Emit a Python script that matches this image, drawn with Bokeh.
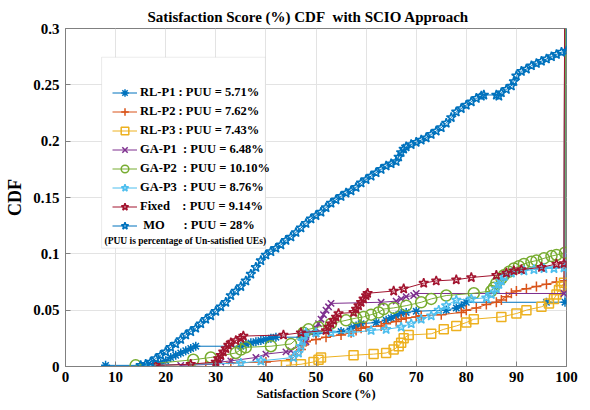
from bokeh.plotting import figure
from bokeh.models import Legend, LegendItem, Label, BoxAnnotation, Range1d, FixedTicker
from bokeh.embed import file_html
from bokeh.resources import INLINE

FONT = "Liberation Serif"

x_ticks = [0, 10, 20, 30, 40, 50, 60, 70, 80, 90, 100]
x_tick_labels = ["0", "10", "20", "30", "40", "50", "60", "70", "80", "90", "100"]
y_ticks = [0, 0.05, 0.1, 0.15, 0.2, 0.25, 0.3]
y_tick_labels = ["0", "0.05", "0.1", "0.15", "0.2", "0.25", "0.3"]

names = ["RL-P1", "RL-P2", "RL-P3", "GA-P1", "GA-P2", "GA-P3", "Fixed", "MO"]
legend_labels = [
    "RL-P1 : PUU = 5.71%",
    "RL-P2 : PUU = 7.62%",
    "RL-P3 : PUU = 7.43%",
    "GA-P1\u00a0 : PUU = 6.48%",
    "GA-P2\u00a0 : PUU = 10.10%",
    "GA-P3\u00a0 : PUU = 8.76%",
    "Fixed\u00a0\u00a0\u00a0 : PUU = 9.14%",
    "\u00a0MO\u00a0\u00a0\u00a0\u00a0\u00a0 : PUU = 28%",
]
note_text = "(PUU is percentage of Un-satisfied UEs)"
title_text = "Satisfaction Score (%) CDF\u00a0 with SCIO Approach"

rl_p1_x = [8, 17, 19, 20, 21, 22, 23, 24, 25, 26, 35, 36, 37, 38, 39, 40, 41, 42, 47, 48, 50, 55,
           57, 58, 59, 62, 64, 65, 66, 67, 68, 70, 76, 78, 79, 80, 96, 99.7, 100]
rl_p1_y = [0.001, 0.001, 0.003, 0.005, 0.008, 0.010, 0.012, 0.014, 0.016, 0.018, 0.018, 0.020,
           0.021, 0.022, 0.023, 0.024, 0.025, 0.026, 0.026, 0.028, 0.029, 0.031, 0.034, 0.036,
           0.038, 0.039, 0.041, 0.043, 0.045, 0.047, 0.048, 0.049, 0.050, 0.052, 0.054, 0.057,
           0.057, 0.0571, 1.0]

rl_p2_x = [18, 28, 33, 40, 45, 46, 47, 47.5, 48, 50, 52, 55, 57, 58, 59, 60, 63, 64, 66, 67, 68,
           70, 71, 75, 79, 80, 82, 84, 86, 87, 88, 89, 90, 92, 94, 96, 98, 99.5, 100]
rl_p2_y = [0.001, 0.002, 0.003, 0.004, 0.006, 0.010, 0.015, 0.019, 0.022, 0.024, 0.026, 0.028,
           0.030, 0.032, 0.034, 0.035, 0.036, 0.038, 0.040, 0.042, 0.043, 0.044, 0.045, 0.046,
           0.048, 0.050, 0.052, 0.055, 0.057, 0.059, 0.062, 0.065, 0.067, 0.069, 0.071, 0.073,
           0.075, 0.0762, 1.0]

rl_p3_x = [44, 47, 49.5, 50.5, 51, 57.5, 61.5, 64, 65.5, 66.5, 67, 67.5, 68.5, 73, 75.5, 78, 80,
           81.5, 87, 90, 92, 95, 96.5, 97.5, 98, 98.5, 99, 99.5, 100]
rl_p3_y = [0.001, 0.002, 0.004, 0.006, 0.008, 0.010, 0.011, 0.012, 0.015, 0.018, 0.021, 0.025,
           0.028, 0.029, 0.033, 0.036, 0.039, 0.042, 0.044, 0.047, 0.050, 0.053, 0.056, 0.060,
           0.064, 0.068, 0.071, 0.0743, 1.0]

ga_p1_x = [23, 30, 31, 33, 38, 40, 44, 45, 48, 49, 50, 50.5, 51, 51.5, 52, 52.5, 53, 63, 66, 67,
           68, 69.5, 70, 99.5, 100]
ga_p1_y = [0.001, 0.002, 0.004, 0.005, 0.008, 0.011, 0.013, 0.014, 0.022, 0.030, 0.034, 0.038,
           0.042, 0.046, 0.050, 0.053, 0.056, 0.057, 0.058, 0.060, 0.062, 0.063, 0.0648, 0.0648, 1.0]

ga_p2_x = [14, 25.5, 29, 34, 35, 36, 41, 45, 47.5, 48.5, 50.5, 53, 56, 58, 59.5, 61, 62.5, 63.5,
           65.5, 68, 71, 73, 76, 81.5, 85, 85.5, 86, 87, 87.5, 88.5, 89.5, 90.5, 91.5, 93, 94,
           95.5, 97, 98, 99.7, 100]
ga_p2_y = [0.001, 0.006, 0.008, 0.012, 0.015, 0.017, 0.018, 0.020, 0.030, 0.033, 0.035, 0.038,
           0.041, 0.043, 0.044, 0.046, 0.048, 0.051, 0.052, 0.054, 0.057, 0.060, 0.063, 0.065,
           0.067, 0.070, 0.074, 0.078, 0.081, 0.084, 0.087, 0.089, 0.091, 0.093, 0.094, 0.096,
           0.098, 0.099, 0.101, 1.0]

ga_p3_x = [16.5, 35, 39, 45.5, 46.5, 47, 47.3, 47.6, 48, 50, 53, 57, 61, 64, 67, 69, 71, 73,
           74.5, 76, 78, 81, 84, 85, 86, 86.5, 87, 87.6, 89, 91.5, 93.5, 95.5, 97.5, 99.5, 100]
ga_p3_y = [0.001, 0.003, 0.005, 0.008, 0.012, 0.018, 0.023, 0.028, 0.030, 0.030, 0.030, 0.030,
           0.032, 0.033, 0.035, 0.038, 0.042, 0.045, 0.050, 0.054, 0.059, 0.060, 0.061, 0.064,
           0.069, 0.073, 0.076, 0.080, 0.083, 0.085, 0.086, 0.087, 0.087, 0.0876, 1.0]

fixed_x = [18, 25, 30, 30.5, 31, 31.5, 32, 32.5, 33, 34, 35, 35.5, 43.5, 47, 52, 52.5, 53, 53.5,
           54, 54.5, 57.5, 58, 58.5, 59, 59.5, 60, 60.3, 65.5, 67.5, 71.5, 74, 78, 81, 86, 88,
           89.5, 91, 95, 98, 99.5, 100]
fixed_y = [0.001, 0.002, 0.004, 0.007, 0.010, 0.013, 0.016, 0.019, 0.021, 0.023, 0.025, 0.027,
           0.028, 0.030, 0.032, 0.035, 0.038, 0.041, 0.044, 0.047, 0.048, 0.051, 0.054, 0.057,
           0.060, 0.063, 0.065, 0.067, 0.069, 0.074, 0.076, 0.077, 0.079, 0.081, 0.083, 0.085,
           0.086, 0.088, 0.091, 0.0914, 1.0]

mo_x = [15, 16, 17, 18, 19, 20, 21, 22, 23, 24, 25, 26, 27, 28, 29, 30, 31, 32, 33, 34, 35, 36,
        37, 38, 39, 40, 41, 42, 43, 44, 45, 46, 47, 48, 49, 50, 51, 52, 53, 54, 55, 56, 57, 58,
        59, 60, 61, 62, 63, 64, 65, 66, 66.5, 67, 67.5, 68, 69, 70, 71, 72, 73, 74, 75, 76, 77,
        78, 79, 80, 81, 82, 83, 83.5, 86, 86.5, 87, 88, 89, 89.5, 90, 91, 92, 93, 94, 95, 96, 97,
        98, 99, 100, 100]
mo_y = [0.001, 0.002, 0.004, 0.007, 0.010, 0.013, 0.017, 0.020, 0.024, 0.028, 0.031, 0.034,
        0.038, 0.042, 0.045, 0.049, 0.053, 0.057, 0.063, 0.067, 0.071, 0.076, 0.082, 0.088, 0.094,
        0.099, 0.102, 0.105, 0.108, 0.112, 0.115, 0.119, 0.123, 0.127, 0.131, 0.134, 0.137, 0.141,
        0.145, 0.148, 0.151, 0.154, 0.156, 0.159, 0.163, 0.166, 0.169, 0.172, 0.175, 0.178, 0.180,
        0.182, 0.186, 0.190, 0.193, 0.195, 0.197, 0.199, 0.201, 0.203, 0.206, 0.209, 0.212, 0.216,
        0.221, 0.226, 0.229, 0.232, 0.235, 0.238, 0.240, 0.241, 0.241, 0.240, 0.243, 0.246, 0.249,
        0.253, 0.258, 0.262, 0.264, 0.267, 0.269, 0.271, 0.273, 0.275, 0.277, 0.279, 0.280, 1.0]

series_x = [rl_p1_x, rl_p2_x, rl_p3_x, ga_p1_x, ga_p2_x, ga_p3_x, fixed_x, mo_x]
series_y = [rl_p1_y, rl_p2_y, rl_p3_y, ga_p1_y, ga_p2_y, ga_p3_y, fixed_y, mo_y]
colors = ["#0072BD", "#D95319", "#EDB120", "#7E2F8E", "#77AC30", "#4DBEEE", "#A2142F", "#0072BD"]
markers = ["asterisk", "cross", "square", "x", "circle", "star", "star", "star"]
sizes = [9, 10, 9, 9, 11, 10, 10, 10]

p = figure(width=586, height=406, output_backend="svg", toolbar_location=None,
           x_range=Range1d(0, 100), y_range=Range1d(0, 0.3),
           min_border_left=65, min_border_right=20, min_border_top=28, min_border_bottom=40,
           background_fill_color="white", border_fill_color="white")
p.outline_line_color = "#808080"
p.outline_line_width = 1

p.title.text = title_text
p.title.align = "left"
p.title.offset = 82
p.title.standoff = 7
p.title.text_font = FONT
p.title.text_font_style = "bold"
p.title.text_font_size = "15px"
p.title.text_color = "black"

p.xgrid.ticker = FixedTicker(ticks=x_ticks)
p.ygrid.ticker = FixedTicker(ticks=y_ticks)
for g in (p.xgrid, p.ygrid):
    g.grid_line_color = "#e3e3e3"
    g.grid_line_width = 1

AX_COLOR = "#808080"
xa = p.xaxis[0]
ya = p.yaxis[0]
xa.ticker = FixedTicker(ticks=x_ticks)
ya.ticker = FixedTicker(ticks=y_ticks)
xa.major_label_overrides = {t: l for t, l in zip(x_ticks, x_tick_labels)}
ya.major_label_overrides = {t: l for t, l in zip(y_ticks, y_tick_labels)}
for ax in (xa, ya):
    ax.axis_line_color = AX_COLOR
    ax.major_tick_line_color = AX_COLOR
    ax.major_tick_in = 5
    ax.major_tick_out = 0
    ax.minor_tick_line_color = None
    ax.major_label_text_font = FONT
    ax.major_label_text_font_style = "bold"
    ax.major_label_text_color = "black"
    ax.major_label_text_font_size = "15px"
    ax.axis_label_text_font = FONT
    ax.axis_label_text_font_style = "bold"
    ax.axis_label_text_color = "black"
xa.major_label_standoff = 5
ya.major_label_standoff = 6
xa.axis_label = "Satisfaction Score (%)"
xa.axis_label_text_font_size = "12.5px"
xa.axis_label_standoff = 2
ya.axis_label = "CDF"
ya.axis_label_text_font_size = "18px"
ya.axis_label_standoff = 5

items = []
for i in range(len(names)):
    lr = p.line(series_x[i], series_y[i], line_color=colors[i], line_width=1)
    mk = p.scatter(series_x[i], series_y[i], marker=markers[i], size=sizes[i],
                   line_color=colors[i], fill_color=None, line_width=1.5)
    items.append(LegendItem(label=legend_labels[i], renderers=[lr, mk]))

box = BoxAnnotation(left=7.2, right=39.9, bottom=0.105, top=0.2745,
                    fill_color="white", fill_alpha=1.0,
                    line_color="#bdbdbd", line_width=1)
p.add_layout(box)

legend = Legend(items=items, location=(47, 131), orientation="vertical",
                padding=0, margin=0, spacing=0,
                glyph_width=25, glyph_height=19, label_height=19,
                label_standoff=3,
                label_text_font=FONT, label_text_font_style="bold",
                label_text_font_size="12.5px", label_text_color="black",
                border_line_color=None, background_fill_alpha=0)
p.add_layout(legend, "center")

note = Label(x=39, y=126, x_units="screen", y_units="screen", text=note_text,
             text_font=FONT, text_font_style="bold", text_font_size="9.5px",
             text_color="black", text_baseline="middle")
p.add_layout(note)

open("out.html", "w").write(file_html(p, INLINE))
